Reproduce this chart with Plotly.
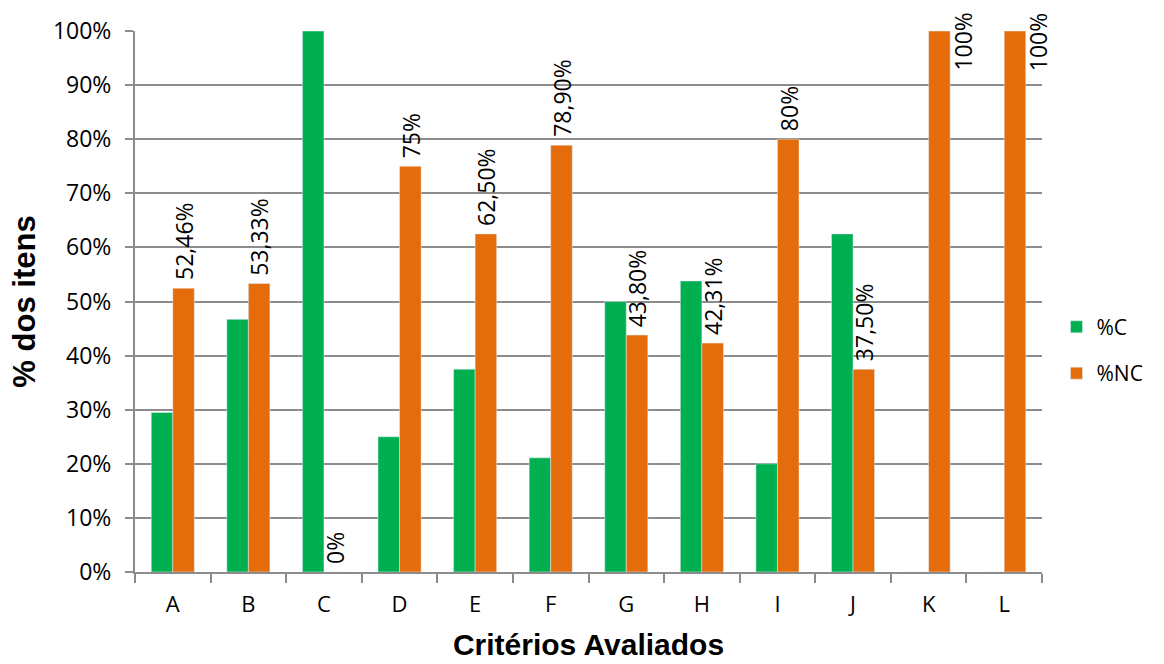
import plotly.graph_objects as go

# Criteria evaluated and the share of items in each class (%)
criterios = ["A", "B", "C", "D", "E", "F", "G", "H", "I", "J", "K", "L"]
pct_c = [29.5, 46.7, 100, 25, 37.5, 21.1, 50, 53.8, 20, 62.5, 0, 0]
pct_nc = [52.46, 53.33, 0, 75, 62.5, 78.9, 43.8, 42.31, 80, 37.5, 100, 100]
rotulos_nc = ["52,46%", "53,33%", "0%", "75%", "62,50%", "78,90%",
              "43,80%", "42,31%", "80%", "37,50%", "100%", "100%"]

VERDE = "#00B050"
LARANJA = "#E46C0A"
CINZA = "#8C8C8C"
FONTE = "Open Sans"
FONTE_TITULO = "Liberation Sans"

fig = go.Figure()
fig.add_trace(go.Bar(x=criterios, y=pct_c, name="%C", marker_color=VERDE,
                     legendgroup="c"))
fig.add_trace(go.Bar(x=criterios, y=pct_nc, name="%NC", marker_color=LARANJA,
                     legendgroup="nc"))

# Vertical value labels above the %NC bars; the full-height bars get
# their label beside the bar so it stays inside the figure.
for cat, val, txt in zip(criterios, pct_nc, rotulos_nc):
    if val >= 100:
        fig.add_annotation(x=cat, y=val, text=txt, textangle=-90,
                           showarrow=False, xanchor="left", yanchor="top",
                           xshift=16, yshift=20,
                           font=dict(family=FONTE, size=23, color="black"))
    else:
        fig.add_annotation(x=cat, y=val, text=txt, textangle=-90,
                           showarrow=False, xanchor="center", yanchor="bottom",
                           xshift=11, yshift=6,
                           font=dict(family=FONTE, size=23, color="black"))

fig.update_layout(
    width=1164, height=664,
    margin=dict(l=135, r=122, t=31, b=92),
    plot_bgcolor="white", paper_bgcolor="white",
    barmode="group", bargap=0.43, bargroupgap=0,
    font=dict(family=FONTE, size=21, color="black"),
    legend=dict(x=1.016, y=0.41, xanchor="left", yanchor="middle",
                traceorder="grouped", tracegroupgap=16,
                font=dict(family=FONTE, size=21)),
)

fig.update_xaxes(
    type="category", range=[-0.5, 11.5], automargin=False,
    showline=True, linecolor=CINZA, linewidth=2,
    ticks="outside", tickson="boundaries", ticklen=9, tickcolor=CINZA, tickwidth=2,
    ticklabelstandoff=12,
    tickfont=dict(family=FONTE, size=22),
    title=dict(text="<b>Critérios Avaliados</b>", standoff=17,
               font=dict(family=FONTE_TITULO, size=30)),
)
fig.update_yaxes(
    range=[0, 100], dtick=10, ticksuffix="%", automargin=False,
    showgrid=True, gridcolor=CINZA, gridwidth=2,
    showline=True, linecolor=CINZA, linewidth=2,
    ticks="outside", ticklen=8, tickcolor=CINZA, tickwidth=2,
    ticklabelstandoff=9,
    tickfont=dict(family=FONTE, size=23),
    title=dict(text="<b>% dos itens</b>", standoff=8,
               font=dict(family=FONTE_TITULO, size=31)),
)

fig.write_html("out.html")
